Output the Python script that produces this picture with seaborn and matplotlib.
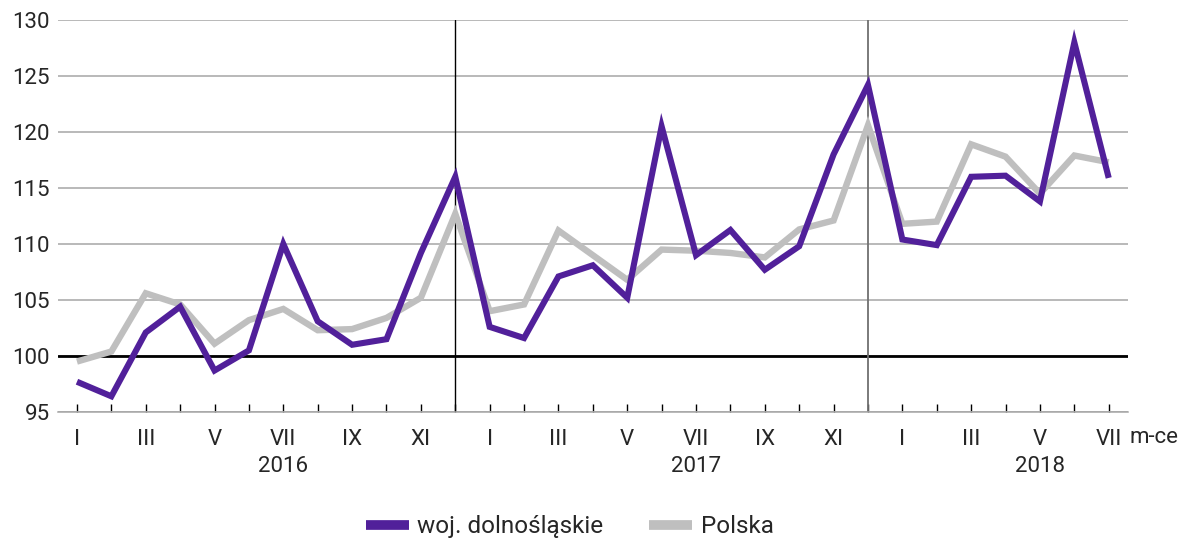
import matplotlib
matplotlib.use("Agg")
import matplotlib.pyplot as plt
import matplotlib.transforms as mtransforms
import pandas as pd
import seaborn as sns
import numpy as np

# miesiace I 2016 - VII 2018
months = ['I', 'II', 'III', 'IV', 'V', 'VI', 'VII', 'VIII', 'IX', 'X', 'XI', 'XII'] * 2 + \
         ['I', 'II', 'III', 'IV', 'V', 'VI', 'VII']
years = [2016] * 12 + [2017] * 12 + [2018] * 7

dolnoslaskie = [97.7, 96.4, 102.1, 104.4, 98.7, 100.5, 110.0, 103.1, 101.0, 101.5, 109.2, 116.0,
                102.6, 101.6, 107.1, 108.1, 105.2, 120.5, 109.0, 111.25, 107.7, 109.8, 118.0, 124.2,
                110.4, 109.9, 116.0, 116.1, 113.8, 128.0, 115.9]
polska = [99.5, 100.4, 105.6, 104.6, 101.1, 103.2, 104.2, 102.3, 102.4, 103.4, 105.2, 112.7,
          104.0, 104.6, 111.2, 109.0, 106.8, 109.5, 109.4, 109.2, 108.8, 111.3, 112.1, 120.6,
          111.8, 112.0, 118.9, 117.8, 114.5, 117.9, 117.3]

year_labels = ['2016', '2017', '2018']
year_label_pos = [6, 18, 28]
year_breaks = [11, 23]

df = pd.DataFrame({'idx': np.arange(len(months)),
                   'dolnoslaskie': dolnoslaskie,
                   'polska': polska})

sns.set_style('white')
plt.rcParams['font.family'] = ['Roboto', 'DejaVu Sans']

fig, ax = plt.subplots(figsize=(11.92, 5.41), dpi=100)
fig.subplots_adjust(left=0.0487, right=0.946, top=0.963, bottom=0.2385)

ax.set_ylim(95, 130)
ax.set_xlim(-0.55, len(months) - 1 + 0.55)
ax.set_yticks(range(95, 131, 5))
ax.yaxis.grid(True, color='#a6a6a6', linewidth=1.1)
ax.set_axisbelow(True)
ax.axhline(100, color='black', linewidth=2, zorder=2)
ax.axvline(year_breaks[0], color='black', linewidth=1, zorder=2)
ax.axvline(year_breaks[1], color='#707070', linewidth=1.3, zorder=2)

sns.lineplot(data=df, x='idx', y='polska', color='#bfbfbf', linewidth=4.6,
             label='Polska', ax=ax, zorder=3)
sns.lineplot(data=df, x='idx', y='dolnoslaskie', color='#51209a', linewidth=4.4,
             label='woj. dolnośląskie', ax=ax, zorder=4)
for line in ax.get_lines()[-2:]:
    line.set_solid_capstyle('butt')
    line.set_solid_joinstyle('miter')

for s in ['left', 'right', 'top']:
    ax.spines[s].set_visible(False)
ax.spines['bottom'].set_color('#a6a6a6')
ax.spines['bottom'].set_linewidth(1.1)

ax.set_xticks(df['idx'])
ax.set_xticklabels([m if m in ('I', 'III', 'V', 'VII', 'IX', 'XI') else '' for m in months])
ax.tick_params(axis='x', direction='in', length=6, width=1, color='black',
               labelsize=16, pad=12, bottom=True)
ax.tick_params(axis='y', length=0, labelsize=16, pad=6)
ax.set_xlabel('')
ax.set_ylabel('')

trans = mtransforms.blended_transform_factory(ax.transData, ax.transAxes)
for lab, pos in zip(year_labels, year_label_pos):
    ax.text(pos, -0.14, lab, transform=trans, ha='center', va='center', fontsize=16)
ax.text(1.002, -0.065, 'm-ce', transform=ax.transAxes, ha='left', va='center', fontsize=16)

handles, labels = ax.get_legend_handles_labels()
leg = ax.legend(handles[::-1], labels[::-1], loc='lower center', bbox_to_anchor=(0.478, -0.035),
                bbox_transform=fig.transFigure, ncol=2, frameon=False, fontsize=17.5,
                handlelength=1.75, columnspacing=1.9, handletextpad=0.35)
for line in leg.get_lines():
    line.set_linewidth(7)
    line.set_solid_capstyle('butt')

fig.savefig('out.png', dpi=100)
